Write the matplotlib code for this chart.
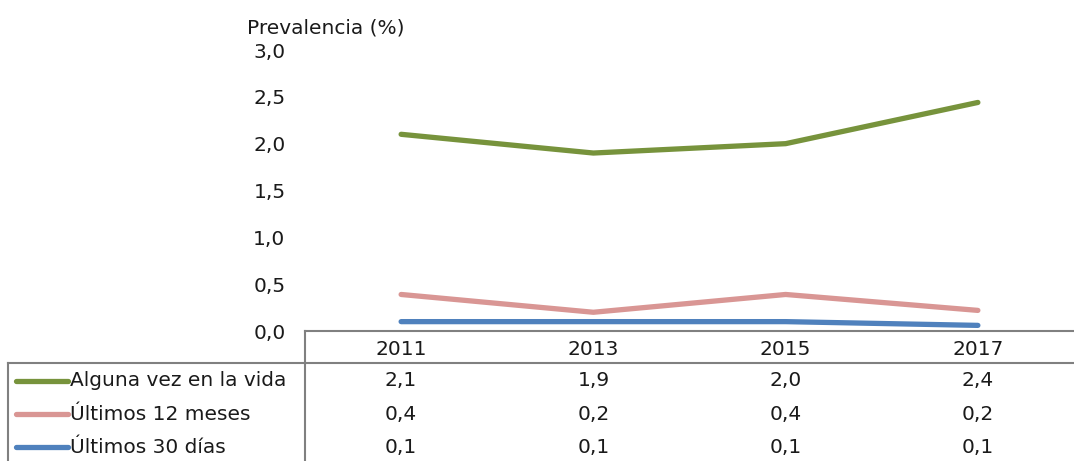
import matplotlib
matplotlib.use("Agg")
import matplotlib.pyplot as plt
from matplotlib.lines import Line2D
from matplotlib.transforms import blended_transform_factory
import numpy as np

plt.rcParams['font.family'] = ['DejaVu Sans']
plt.rcParams['text.color'] = '#1a1a1a'
plt.rcParams['ytick.color'] = '#1a1a1a'

years = ["2011", "2013", "2015", "2017"]
series_names = ["Alguna vez en la vida", "Últimos 12 meses", "Últimos 30 días"]
alguna_vez = [2.1, 1.9, 2.0, 2.44]
ultimos_12 = [0.39, 0.2, 0.39, 0.22]
ultimos_30 = [0.1, 0.1, 0.1, 0.06]
colors = ["#77933C", "#D99694", "#4F81BD"]
yticks = [0.0, 0.5, 1.0, 1.5, 2.0, 2.5, 3.0]

W, H = 1074, 461
FS = 14.5
fig = plt.figure(figsize=(W / 100, H / 100), dpi=100)

def fx(px):
    return px / W

def fy(py):
    return 1 - py / H

ax = fig.add_axes([fx(305), fy(331), fx(W - 305), fy(50) - fy(331)])
x = np.arange(len(years))
for vals, c in zip([alguna_vez, ultimos_12, ultimos_30], colors):
    ax.plot(x, vals, color=c, lw=3.8, solid_capstyle="round", clip_on=False)

ax.set_xlim(-0.5, len(years) - 0.5)
ax.set_ylim(0, 3.0)
ax.set_yticks(yticks)
ax.set_yticklabels([f"{v:.1f}".replace(".", ",") for v in yticks], fontsize=FS)
ax.set_xticks([])
ax.tick_params(axis="y", length=0, pad=14)
for s in ["left", "right", "top"]:
    ax.spines[s].set_visible(False)
ax.spines["bottom"].set_color("#808080")
ax.spines["bottom"].set_linewidth(1.5)

fig.text(fx(247), fy(28), "Prevalencia (%)", fontsize=FS, va="center", ha="left")

# data table under the axis
grey = "#808080"
fig.add_artist(Line2D([fx(305), fx(305)], [fy(331), 0], color=grey, lw=1.5))
fig.add_artist(Line2D([fx(8), 1], [fy(363), fy(363)], color=grey, lw=1.5))
fig.add_artist(Line2D([fx(8), fx(8)], [fy(363), 0], color=grey, lw=1.5))

tr = blended_transform_factory(ax.transData, fig.transFigure)
for i, yr in enumerate(years):
    ax.text(i, fy(349), yr, transform=tr, ha="center", va="center", fontsize=FS)

row_y = [381, 414, 447]
for vals, name, c, ry in zip([alguna_vez, ultimos_12, ultimos_30], series_names, colors, row_y):
    fig.add_artist(Line2D([fx(16), fx(68)], [fy(ry), fy(ry)], color=c, lw=3.8,
                          solid_capstyle="round"))
    fig.text(fx(70), fy(ry), name, fontsize=FS, va="center", ha="left")
    for i, v in enumerate(vals):
        ax.text(i, fy(ry), f"{v:.1f}".replace(".", ","), transform=tr,
                ha="center", va="center", fontsize=FS)

fig.savefig("out.png", dpi=100)
